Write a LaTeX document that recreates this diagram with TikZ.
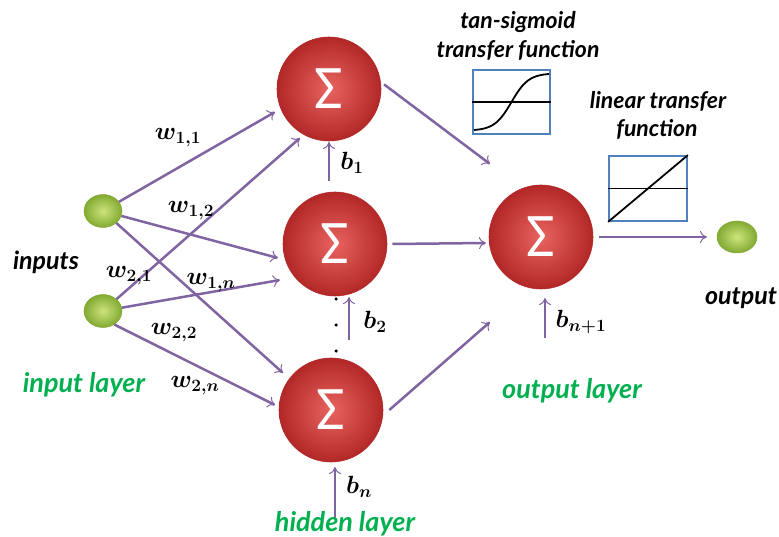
\documentclass[tikz,border=0pt]{standalone}
\usepackage{fontspec}
\usepackage{bm}
\setmainfont{Lato}
\newfontfamily\sigfont{Carlito}
\usetikzlibrary{arrows.meta,calc,shapes.geometric}
\definecolor{arrpurple}{RGB}{128,100,162}
\definecolor{lblgreen}{RGB}{0,176,80}
\definecolor{neuronlight}{RGB}{232,100,95}
\definecolor{neurondark}{RGB}{178,40,40}
\definecolor{greenlight}{RGB}{205,228,125}
\definecolor{greendark}{RGB}{130,170,50}
\definecolor{boxblue}{RGB}{79,129,189}
\tikzset{
  arr/.style={draw=arrpurple, line width=2.5pt, -{To[length=7pt,width=12pt,line width=1pt]}},
  neuron/.style={circle, minimum size=104pt, inner sep=0pt, draw=neurondark, line width=0.6pt,
    shading=radial, inner color=neuronlight, outer color=neurondark, text=white,
    font=\sigfont\fontsize{62}{62}\selectfont},
  inball/.style={ellipse, minimum width=38pt, minimum height=33pt, inner sep=0pt,
    draw=greendark, line width=0.5pt, shading=radial, inner color=greenlight, outer color=greendark},
  lbl/.style={font=\bfseries\itshape\fontsize{23}{26}\selectfont, text=black, inner sep=0pt},
  biglbl/.style={lbl, font=\bfseries\itshape\fontsize{25}{28}\selectfont},
  glbl/.style={lbl, text=lblgreen, font=\bfseries\itshape\fontsize{27}{30}\selectfont},
  wlbl/.style={font=\fontsize{24}{28}\selectfont, inner sep=0pt},
  tbox/.style={draw=boxblue, line width=1.8pt, inner sep=0pt},
  dotn/.style={circle, fill=black, minimum size=3.5pt, inner sep=0pt},
}
\begin{document}
\begin{tikzpicture}[x=1pt,y=-1pt]
\useasboundingbox (0,0) rectangle (779,537);
% nodes
\node[inball] (i1) at (103,211) {};
\node[inball] (i2) at (103,311) {};
\node[neuron] (h1) at (329,89) {Σ};
\node[neuron] (h2) at (335,244) {Σ};
\node[neuron] (h3) at (331,410) {Σ};
\node[neuron] (o) at (541,237) {Σ};
\node[inball, minimum width=40pt, minimum height=32pt] (out) at (737,237) {};
% arrow tips
\coordinate (t11) at (275,112);
\coordinate (t12) at (278,258);
\coordinate (t1n) at (283,373);
\coordinate (t21) at (300,138);
\coordinate (t22) at (280,280);
\coordinate (t2n) at (275,405);
\coordinate (b1s) at (329,181);
\coordinate (b1t) at (329,142);
\coordinate (b2s) at (349,340);
\coordinate (b2t) at (349,297);
\coordinate (bns) at (335,519);
\coordinate (bnt) at (335,467);
\coordinate (bos) at (545,338);
\coordinate (bot) at (545,298);
\coordinate (ho1) at (490,164);
\coordinate (ho2) at (486,243);
\coordinate (ho3) at (490,322);
\coordinate (oo) at (707,237);
% connectors
\draw[arr] (i1) -- (t11);
\draw[arr] (i1) -- (t12);
\draw[arr] (i1) -- (t1n);
\draw[arr] (i2) -- (t21);
\draw[arr] (i2) -- (t22);
\draw[arr] (i2.-50) -- (t2n);
\draw[arr] (b1s) -- (b1t);
\draw[arr] (b2s) -- (b2t);
\draw[arr] (bns) -- (bnt);
\draw[arr] (bos) -- (bot);
\draw[arr] ([xshift=3pt]h1.5) -- (ho1);
\draw[arr] ([xshift=5pt]h2.east) -- (ho2);
\draw[arr] ([xshift=6pt]h3.east) -- (ho3);
\draw[arr] ([xshift=6pt]o.east) -- (oo);
% dots
\node[dotn] (d1) at (336,299) {};
\node[dotn] (d2) at (336,325) {};
\node[dotn] (d3) at (336,351) {};
% weight labels
\node[wlbl] (w11) at (178,138) {$\bm{w_{1,1}}$};
\node[wlbl] (w12) at (191,211) {$\bm{w_{1,2}}$};
\node[wlbl] (w21) at (129,276) {$\bm{w_{2,1}}$};
\node[wlbl] (w1n) at (211,283) {$\bm{w_{1,n}}$};
\node[wlbl] (w22) at (174,333) {$\bm{w_{2,2}}$};
\node[wlbl] (w2n) at (195,386) {$\bm{w_{2,n}}$};
\node[wlbl] (lb1) at (352,163) {$\bm{b_{1}}$};
\node[wlbl] (lb2) at (375,322) {$\bm{b_{2}}$};
\node[wlbl] (lbn) at (359,487) {$\bm{b_{n}}$};
\node[wlbl] (lbo) at (581,322) {$\bm{b_{n+1}}$};
% text labels
\node[biglbl] (tin) at (46,262) {inputs};
\node[biglbl] (tout) at (741,298) {output};
\node[glbl] (til) at (84,385) {input layer};
\node[glbl] (thl) at (345,524) {hidden layer};
\node[glbl] (tol) at (572,391) {output layer};
\node[lbl] (ts1) at (518,22) {tan-sigmoid};
\node[lbl] (ts2) at (518,50) {transfer function};
\node[lbl] (tl1) at (658,101) {linear transfer};
\node[lbl] (tl2) at (657,129) {function};
% transfer function boxes
\node[tbox, minimum width=77pt, minimum height=64pt] (sbox) at (511.5,102) {};
\draw[line width=1.8pt] (sbox.west) -- (sbox.east);
\draw[line width=1.8pt] plot[domain=-1:1, samples=50] ({511.5+37.5*\x},{102-28*tanh(2.2*\x)/tanh(2.2)});
\node[tbox, minimum width=78pt, minimum height=65pt] (lbox) at (648,188.5) {};
\draw[line width=1.8pt] (lbox.west) -- (lbox.east);
\draw[line width=1.8pt] (lbox.south west) -- (lbox.north east);
\end{tikzpicture}
\end{document}
